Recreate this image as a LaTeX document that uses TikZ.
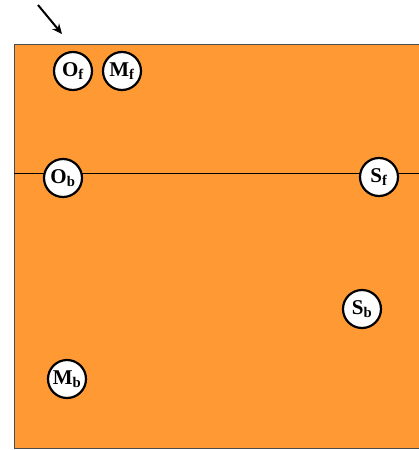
\documentclass[tikz,border=0pt]{standalone}
\usepackage{fontspec}
\setmainfont{Liberation Serif}
\usetikzlibrary{arrows.meta}
\definecolor{plate}{RGB}{255,153,51}
\begin{document}
\begin{tikzpicture}[x=1pt,y=-1pt,
	spot/.style={circle,draw=black,line width=2.2pt,fill=white,minimum size=38pt,inner sep=0pt,font=\fontsize{21}{24}\selectfont\bfseries}]
				\useasboundingbox (0,0) rectangle (419,450);
				\clip (0,0) rectangle (419,450);
				\draw[fill=plate,draw=black!70,line width=1pt] (14,44) rectangle (430,448);
				\coordinate (lw) at (14,173);
				\coordinate (le) at (430,173);
				\draw (lw) -- (le);
				\node[spot] (of) at (73,71) {O\textsubscript{f}};
				\node[spot] (mf) at (122,71) {M\textsubscript{f}};
				\node[spot] (ob) at (63,178) {O\textsubscript{b}};
				\node[spot] (sf) at (379,177) {S\textsubscript{f}};
				\node[spot] (sb) at (362,309) {S\textsubscript{b}};
				\node[spot] (mb) at (67,379) {M\textsubscript{b}};
				\coordinate (a0) at (38,5);
				\coordinate (a1) at (62,34);
				\draw[line width=2pt,-{Stealth[length=10pt,width=9pt]}] (a0) -- (a1);
			\end{tikzpicture}
\end{document}
